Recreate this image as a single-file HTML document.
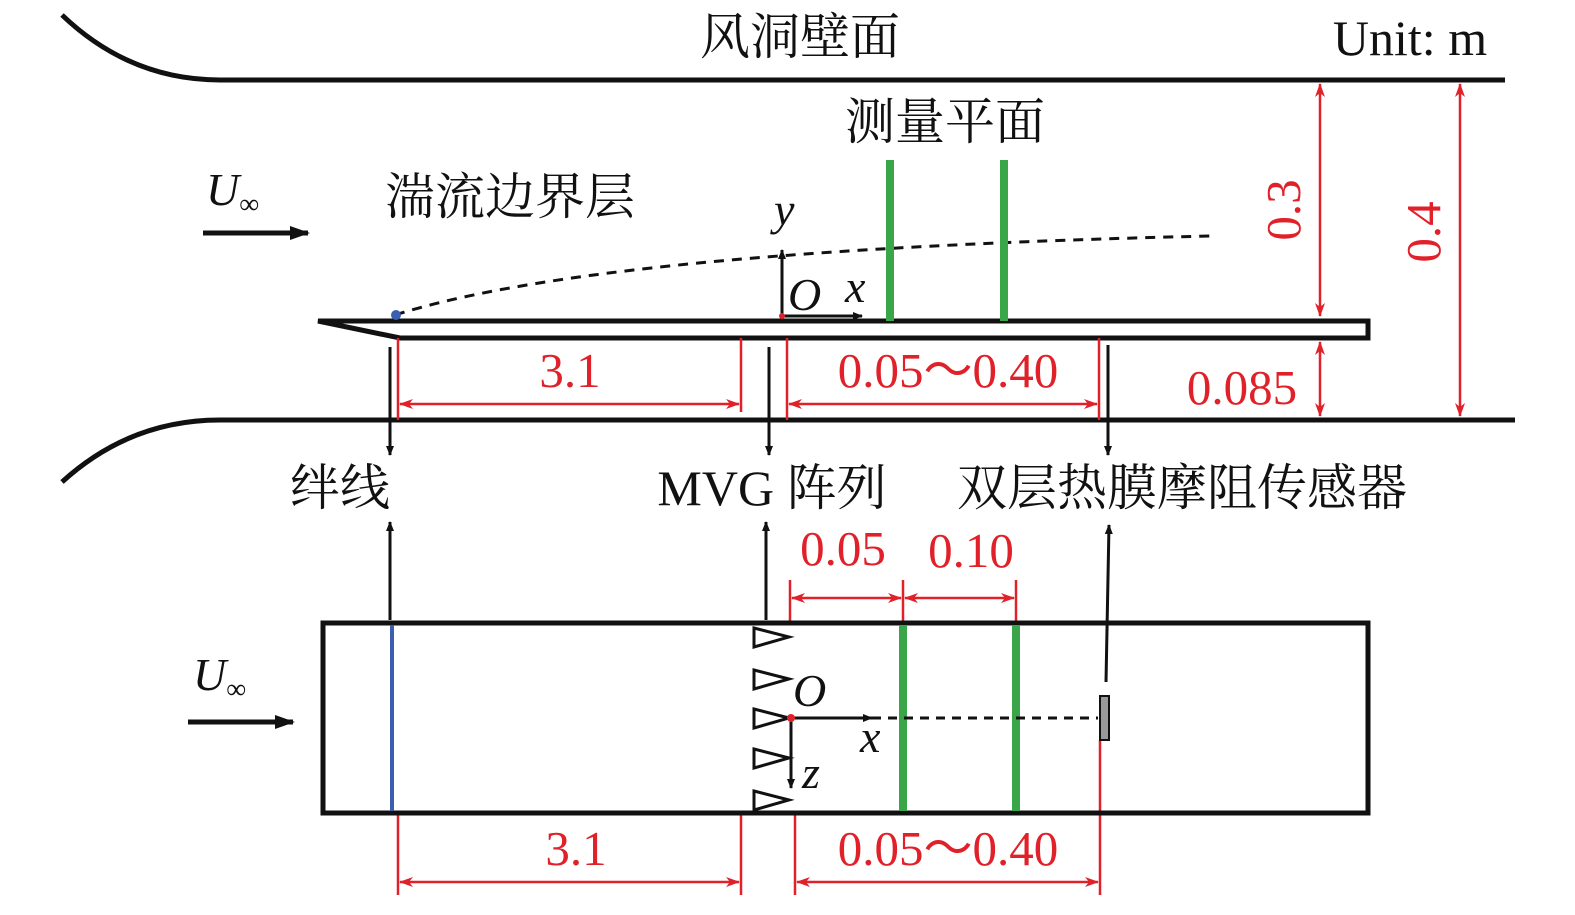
<!DOCTYPE html>
<html><head><meta charset="utf-8"><style>
html,body{margin:0;padding:0;background:#fff;}
svg{display:block;}
.cj{font-family:"Liberation Serif","Noto Serif CJK SC",serif;font-size:50px;fill:#111;}
.num{font-family:"Liberation Serif",serif;font-size:49px;fill:#e0212a;}
.it{font-family:"Liberation Serif",serif;font-style:italic;font-size:46px;fill:#111;}
</style></head><body>
<svg width="1575" height="915" viewBox="0 0 1575 915" xmlns="http://www.w3.org/2000/svg">
<defs>
<marker id="ab" markerWidth="10" markerHeight="10" refX="9" refY="5" orient="auto" markerUnits="userSpaceOnUse"><path d="M0,1 L10,5 L0,9 Z" fill="#111"/></marker>
<marker id="abig" markerWidth="20" markerHeight="16" refX="18" refY="8" orient="auto" markerUnits="userSpaceOnUse"><path d="M0,1 L20,8 L0,15 Z" fill="#111"/></marker>
<marker id="ar" markerWidth="14" markerHeight="12" refX="13" refY="6" orient="auto-start-reverse" markerUnits="userSpaceOnUse"><path d="M0,1 L14,6 L0,11 L4,6 Z" fill="#e0212a"/></marker>
</defs>
<g fill="none" stroke="#111" stroke-width="5">
<path d="M62,15 Q130,80 220,80 L1505,80"/>
<path d="M62,482 Q130,420 220,420 L1515,420"/>
<path d="M318,321 L1368,321 L1368,338 L400,338 Z" stroke-width="5"/>
</g>
<path d="M395,315 Q600,250 1210,236" fill="none" stroke="#111" stroke-width="3" stroke-dasharray="10,8"/>
<circle cx="396" cy="315" r="5" fill="#3a5fb0"/>
<line x1="890" y1="160" x2="890" y2="321" stroke="#3aa64a" stroke-width="8"/>
<line x1="1004" y1="160" x2="1004" y2="321" stroke="#3aa64a" stroke-width="8"/>
<g stroke="#111" stroke-width="3">
<line x1="782" y1="316" x2="782" y2="250" marker-end="url(#ab)"/>
<line x1="782" y1="316" x2="862" y2="316" marker-end="url(#ab)"/>
<line x1="203" y1="233" x2="308" y2="233" stroke-width="5" marker-end="url(#abig)"/>
<line x1="188" y1="722" x2="293" y2="722" stroke-width="5" marker-end="url(#abig)"/>
<line x1="390" y1="347" x2="390" y2="455" marker-end="url(#ab)"/>
<line x1="769" y1="347" x2="769" y2="455" marker-end="url(#ab)"/>
<line x1="1108" y1="345" x2="1108" y2="455" marker-end="url(#ab)"/>
<line x1="390" y1="620" x2="390" y2="522" marker-end="url(#ab)"/>
<line x1="766" y1="620" x2="766" y2="522" marker-end="url(#ab)"/>
<line x1="1106" y1="682" x2="1109" y2="525" marker-end="url(#ab)"/>
</g>
<circle cx="782" cy="316" r="3" fill="#e0212a"/>
<g stroke="#e0212a" stroke-width="2.5" fill="none">
<line x1="1320" y1="84" x2="1320" y2="316" marker-start="url(#ar)" marker-end="url(#ar)"/>
<line x1="1320" y1="342" x2="1320" y2="416" marker-start="url(#ar)" marker-end="url(#ar)"/>
<line x1="1460" y1="84" x2="1460" y2="416" marker-start="url(#ar)" marker-end="url(#ar)"/>
<line x1="398" y1="338" x2="398" y2="420"/>
<line x1="741" y1="338" x2="741" y2="412"/>
<line x1="787" y1="338" x2="787" y2="420"/>
<line x1="1099" y1="338" x2="1099" y2="420"/>
<line x1="400" y1="404" x2="739" y2="404" marker-start="url(#ar)" marker-end="url(#ar)"/>
<line x1="789" y1="404" x2="1097" y2="404" marker-start="url(#ar)" marker-end="url(#ar)"/>
<line x1="790" y1="580" x2="790" y2="623"/>
<line x1="903" y1="580" x2="903" y2="623"/>
<line x1="1016" y1="580" x2="1016" y2="623"/>
<line x1="792" y1="598" x2="901" y2="598" marker-start="url(#ar)" marker-end="url(#ar)"/>
<line x1="905" y1="598" x2="1014" y2="598" marker-start="url(#ar)" marker-end="url(#ar)"/>
<line x1="1100" y1="740" x2="1100" y2="895"/>
<line x1="398" y1="813" x2="398" y2="895"/>
<line x1="741" y1="813" x2="741" y2="895"/>
<line x1="795" y1="813" x2="795" y2="895"/>
<line x1="400" y1="882" x2="739" y2="882" marker-start="url(#ar)" marker-end="url(#ar)"/>
<line x1="797" y1="882" x2="1098" y2="882" marker-start="url(#ar)" marker-end="url(#ar)"/>
</g>
<rect x="323" y="623" width="1045" height="190" fill="none" stroke="#111" stroke-width="5"/>
<line x1="392" y1="625" x2="392" y2="811" stroke="#3a5fb0" stroke-width="4"/>
<line x1="903" y1="625" x2="903" y2="811" stroke="#3aa64a" stroke-width="8"/>
<line x1="1016" y1="625" x2="1016" y2="811" stroke="#3aa64a" stroke-width="8"/>
<g fill="none" stroke="#111" stroke-width="3">
<path d="M754,628 L789,637 L754,647 Z"/>
<path d="M754,670 L789,679 L754,689 Z"/>
<path d="M754,709 L789,718 L754,728 Z"/>
<path d="M754,749 L789,758 L754,768 Z"/>
<path d="M754,791 L789,800 L754,810 Z"/>
</g>
<line x1="872" y1="718" x2="1098" y2="718" stroke="#111" stroke-width="3" stroke-dasharray="9,7"/>
<g stroke="#111" stroke-width="3">
<line x1="791" y1="718" x2="872" y2="718" marker-end="url(#ab)"/>
<line x1="791" y1="718" x2="791" y2="788" marker-end="url(#ab)"/>
</g>
<circle cx="791" cy="718" r="4" fill="#e0212a"/>
<rect x="1100" y="696" width="9" height="44" fill="#999" stroke="#111" stroke-width="2"/>
<text class="cj" x="800" y="54" text-anchor="middle">风洞壁面</text>
<text x="1410" y="55" text-anchor="middle" style="font-family:'Liberation Serif',serif;font-size:50px;fill:#111">Unit: m</text>
<text class="cj" x="945" y="139" text-anchor="middle">测量平面</text>
<text class="cj" x="510" y="214" text-anchor="middle">湍流边界层</text>
<text class="it" x="206" y="205">U<tspan font-size="28" dy="8" font-style="normal">∞</tspan></text>
<text class="it" x="193" y="690">U<tspan font-size="28" dy="8" font-style="normal">∞</tspan></text>
<text class="it" x="774" y="225">y</text>
<text class="it" x="788" y="310">O</text>
<text class="it" x="845" y="302">x</text>
<text class="it" x="793" y="706">O</text>
<text class="it" x="860" y="752">x</text>
<text class="it" x="802" y="788">z</text>
<text class="num" x="570" y="387" text-anchor="middle">3.1</text>
<text class="num" x="948" y="387" text-anchor="middle">0.05～0.40</text>
<text class="num" x="1242" y="404" text-anchor="middle">0.085</text>
<text class="num" transform="translate(1300,210) rotate(-90)" text-anchor="middle">0.3</text>
<text class="num" transform="translate(1440,232) rotate(-90)" text-anchor="middle">0.4</text>
<text class="cj" x="340" y="505" text-anchor="middle">绊线</text>
<text class="cj" x="772" y="505" text-anchor="middle">MVG 阵列</text>
<text class="cj" x="1182" y="505" text-anchor="middle">双层热膜摩阻传感器</text>
<text class="num" x="843" y="565" text-anchor="middle">0.05</text>
<text class="num" x="971" y="567" text-anchor="middle">0.10</text>
<text class="num" x="576" y="865" text-anchor="middle">3.1</text>
<text class="num" x="948" y="865" text-anchor="middle">0.05～0.40</text>
</svg>
</body></html>
